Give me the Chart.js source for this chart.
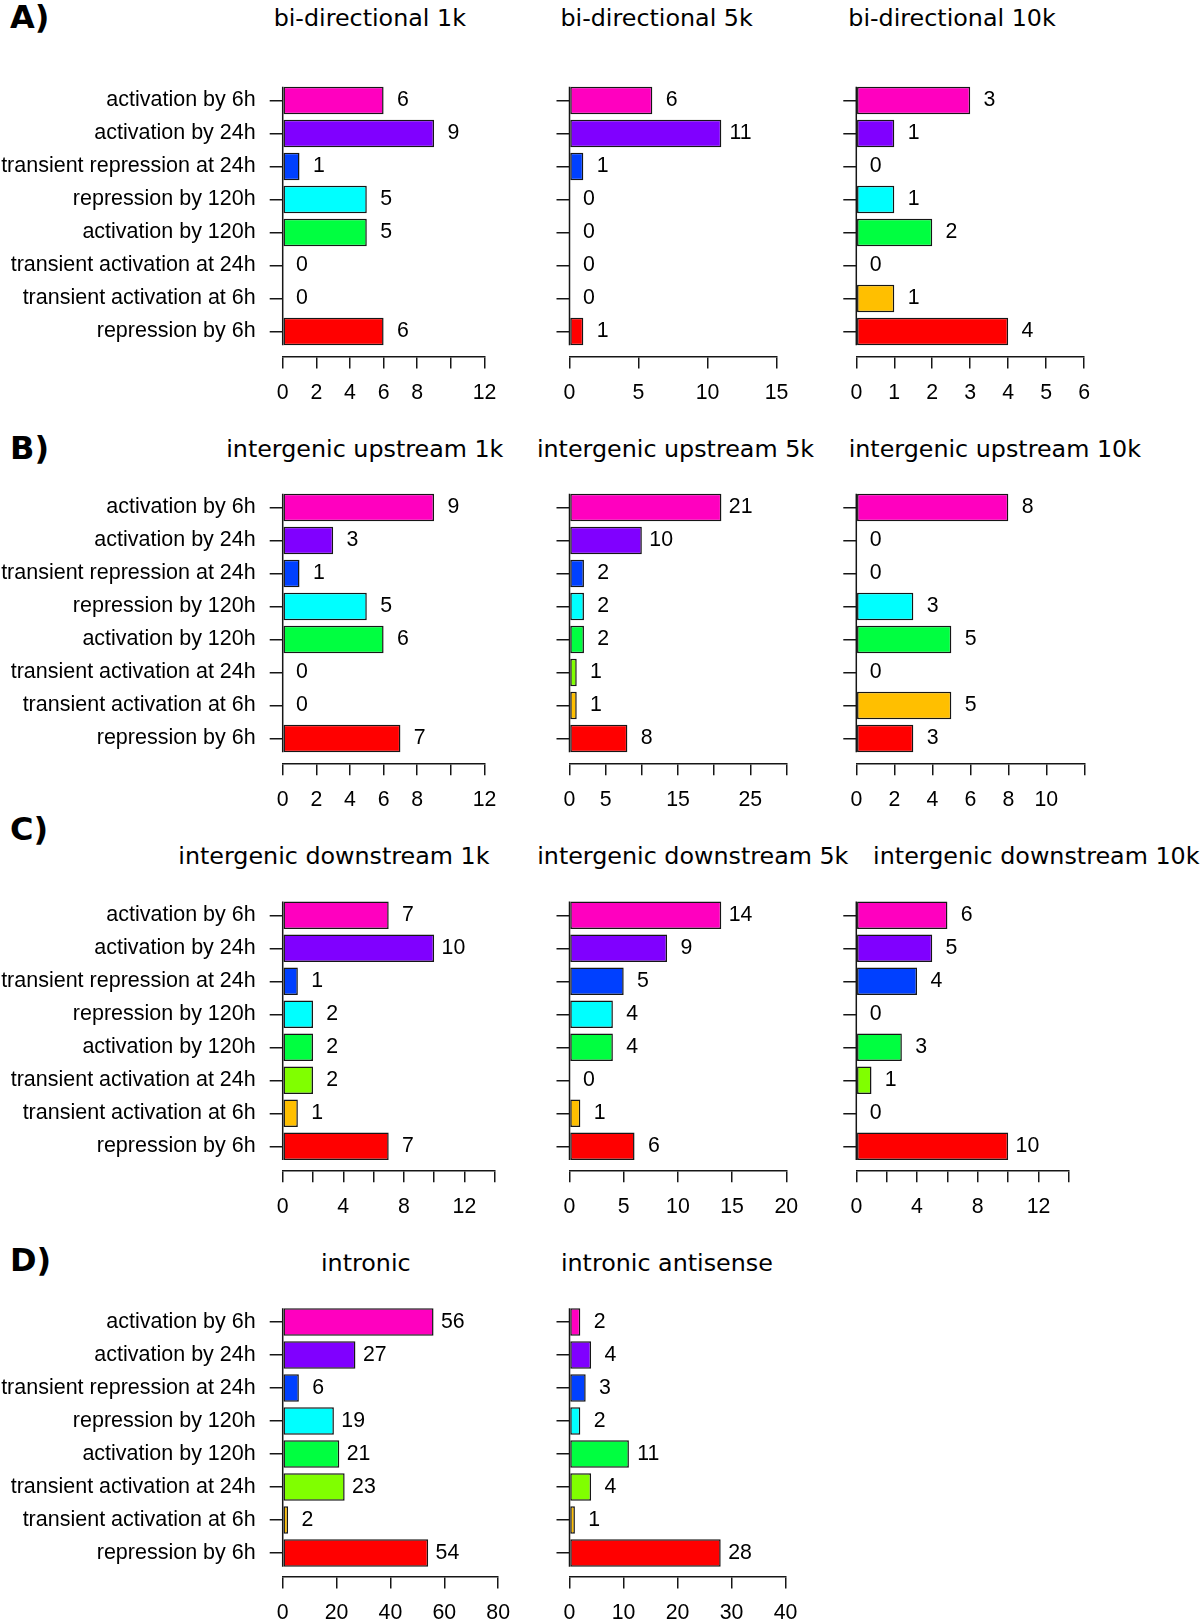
<!DOCTYPE html>
<html>
<head>
<meta charset="utf-8">
<script src="https://cdn.jsdelivr.net/npm/chart.js@4/dist/chart.umd.min.js"></script>
<style>
html, body { margin: 0; padding: 0; background: #fff; }
body { width: 1200px; height: 1623px; position: relative; overflow: hidden; }
canvas { position: absolute; }
.ttl { position: absolute; font-family: 'DejaVu Sans'; font-size: 23.8px; line-height: 1; white-space: nowrap; color: #000; transform: translateX(-50%); }
.lt { position: absolute; font-family: 'DejaVu Sans'; font-weight: bold; font-size: 32px; line-height: 1; color: #000; }
</style>
</head>
<body>
<script>
// ---------- data ----------
const categories = [
  'activation by 6h', 'activation by 24h', 'transient repression at 24h', 'repression by 120h',
  'activation by 120h', 'transient activation at 24h', 'transient activation at 6h', 'repression by 6h'
];
const categoryColors = ['#FF00BF', '#8000FF', '#0040FF', '#00FFFF', '#00FF40', '#80FF00', '#FFBF00', '#FF0000'];

const biDirectional1k  = [6, 9, 1, 5, 5, 0, 0, 6];
const biDirectional5k  = [6, 11, 1, 0, 0, 0, 0, 1];
const biDirectional10k = [3, 1, 0, 1, 2, 0, 1, 4];
const upstream1k  = [9, 3, 1, 5, 6, 0, 0, 7];
const upstream5k  = [21, 10, 2, 2, 2, 1, 1, 8];
const upstream10k = [8, 0, 0, 3, 5, 0, 5, 3];
const downstream1k  = [7, 10, 1, 2, 2, 2, 1, 7];
const downstream5k  = [14, 9, 5, 4, 4, 0, 1, 6];
const downstream10k = [6, 5, 4, 0, 3, 1, 0, 10];
const intronic = [56, 27, 6, 19, 21, 23, 2, 54];
const intronicAntisense = [2, 4, 3, 2, 11, 4, 1, 28];

const ticksBi1k = [0, 2, 4, 6, 8, 10, 12];      const tickLabelsBi1k = ['0', '2', '4', '6', '8', '', '12'];
const ticksBi5k = [0, 5, 10, 15];               const tickLabelsBi5k = ['0', '5', '10', '15'];
const ticksBi10k = [0, 1, 2, 3, 4, 5, 6];       const tickLabelsBi10k = ['0', '1', '2', '3', '4', '5', '6'];
const ticksUp1k = [0, 2, 4, 6, 8, 10, 12];      const tickLabelsUp1k = ['0', '2', '4', '6', '8', '', '12'];
const ticksUp5k = [0, 5, 10, 15, 20, 25, 30];   const tickLabelsUp5k = ['0', '5', '', '15', '', '25', ''];
const ticksUp10k = [0, 2, 4, 6, 8, 10, 12];     const tickLabelsUp10k = ['0', '2', '4', '6', '8', '10', ''];
const ticksDown1k = [0, 2, 4, 6, 8, 10, 12, 14];  const tickLabelsDown1k = ['0', '', '4', '', '8', '', '12', ''];
const ticksDown5k = [0, 5, 10, 15, 20];           const tickLabelsDown5k = ['0', '5', '10', '15', '20'];
const ticksDown10k = [0, 2, 4, 6, 8, 10, 12, 14]; const tickLabelsDown10k = ['0', '', '4', '', '8', '', '12', ''];
const ticksIntronic = [0, 20, 40, 60, 80];        const tickLabelsIntronic = ['0', '20', '40', '60', '80'];
const ticksAntisense = [0, 10, 20, 30, 40];       const tickLabelsAntisense = ['0', '10', '20', '30', '40'];

// ---------- layout (pixels) ----------
const COL_X0 = [282.7, 569.5, 856.3];
const ROWS = [
  { c0: 100.4,  axis: 357.0,  letter: 'A)', letterBase: 28,   titleBase: 27 },
  { c0: 507.4,  axis: 763.8,  letter: 'B)', letterBase: 459,  titleBase: 458 },
  { c0: 915.3,  axis: 1170.8, letter: 'C)', letterBase: 840,  titleBase: 865 },
  { c0: 1322.1, axis: 1577.0, letter: 'D)', letterBase: 1271.5, titleBase: 1272 }
];
const SPACING = 33;
const XH = 60;
const LINE = '#161616';
const LABEL_FONT = { family: 'Liberation Sans', size: 21.3 };
const CAT_FONT = { family: 'Liberation Sans', size: 21.5 };
const VALUE_OFFSET = 19.3;

const panels = [
  { title: 'bi-directional 1k',  values: biDirectional1k,  ticks: ticksBi1k,  tickLabels: tickLabelsBi1k,  row: 0, col: 0, axisLen: 201.8, cx: 369.8 },
  { title: 'bi-directional 5k',  values: biDirectional5k,  ticks: ticksBi5k,  tickLabels: tickLabelsBi5k,  row: 0, col: 1, axisLen: 207.0, cx: 656.6 },
  { title: 'bi-directional 10k', values: biDirectional10k, ticks: ticksBi10k, tickLabels: tickLabelsBi10k, row: 0, col: 2, axisLen: 227.8, cx: 952.0 },
  { title: 'intergenic upstream 1k',  values: upstream1k,  ticks: ticksUp1k,  tickLabels: tickLabelsUp1k,  row: 1, col: 0, axisLen: 201.8, cx: 364.8 },
  { title: 'intergenic upstream 5k',  values: upstream5k,  ticks: ticksUp5k,  tickLabels: tickLabelsUp5k,  row: 1, col: 1, axisLen: 217.0, cx: 675.5 },
  { title: 'intergenic upstream 10k', values: upstream10k, ticks: ticksUp10k, tickLabels: tickLabelsUp10k, row: 1, col: 2, axisLen: 228.0, cx: 994.8 },
  { title: 'intergenic downstream 1k',  values: downstream1k,  ticks: ticksDown1k,  tickLabels: tickLabelsDown1k,  row: 2, col: 0, axisLen: 212.0, cx: 333.9 },
  { title: 'intergenic downstream 5k',  values: downstream5k,  ticks: ticksDown5k,  tickLabels: tickLabelsDown5k,  row: 2, col: 1, axisLen: 216.8, cx: 692.8 },
  { title: 'intergenic downstream 10k', values: downstream10k, ticks: ticksDown10k, tickLabels: tickLabelsDown10k, row: 2, col: 2, axisLen: 212.6, cx: 1036.3 },
  { title: 'intronic',           values: intronic,          ticks: ticksIntronic,  tickLabels: tickLabelsIntronic,  row: 3, col: 0, axisLen: 215.5, cx: 365.8 },
  { title: 'intronic antisense', values: intronicAntisense, ticks: ticksAntisense, tickLabels: tickLabelsAntisense, row: 3, col: 1, axisLen: 216.0, cx: 666.9 }
];

// ---------- plugin: zero line + value labels ----------
const barDecor = {
  id: 'barDecor',
  afterDatasetsDraw(chart, args, opts) {
    const ctx = chart.ctx;
    const bars = chart.getDatasetMeta(0).data;
    const vals = opts.values;
    const x = chart.scales.x.getPixelForValue(0);
    const first = bars[0], last = bars[bars.length - 1];
    ctx.save();
    ctx.strokeStyle = LINE;
    ctx.lineWidth = 1.5;
    ctx.beginPath();
    ctx.moveTo(x, first.y - first.height / 2);
    ctx.lineTo(x, last.y + last.height / 2);
    ctx.stroke();
    ctx.font = LABEL_FONT.size + 'px "' + LABEL_FONT.family + '"';
    ctx.fillStyle = '#000';
    ctx.textAlign = 'center';
    ctx.textBaseline = 'middle';
    bars.forEach((b, i) => ctx.fillText(String(vals[i]), b.x + VALUE_OFFSET, b.y));
    ctx.restore();
  }
};

function addText(cls, text, left, top) {
  const d = document.createElement('div');
  d.className = cls;
  d.textContent = text;
  d.style.left = left + 'px';
  d.style.top = top + 'px';
  document.body.appendChild(d);
}

ROWS.forEach(r => addText('lt', r.letter, 10, r.letterBase - 0.846 * 32));

panels.forEach(p => {
  const row = ROWS[p.row];
  const x0 = COL_X0[p.col];
  const xRight = x0 + p.axisLen;
  const n = p.values.length;
  const m = (row.axis - (row.c0 + (n - 1) * SPACING)) / SPACING;
  const caTop = row.c0 - m * SPACING;
  const cl = Math.max(0, Math.floor(x0 - 290));
  const ct = Math.floor(caTop - 20);
  const cr = Math.min(1200, Math.ceil(xRight + 50));
  const cb = Math.ceil(row.axis + 70);
  const W = cr - cl, H = cb - ct;
  const yw = x0 - cl - 1;   // y-axis box reaches the canvas edge so its labels are not clipped

  addText('ttl', p.title, p.cx, row.titleBase - 0.846 * 23.8);

  const cv = document.createElement('canvas');
  cv.width = W; cv.height = H;
  cv.style.left = cl + 'px'; cv.style.top = ct + 'px';
  cv.style.width = W + 'px'; cv.style.height = H + 'px';
  document.body.appendChild(cv);

  const showLabels = p.col === 0;
  const xMax = p.ticks[p.ticks.length - 1];

  new Chart(cv.getContext('2d'), {
    type: 'bar',
    data: {
      datasets: [{
        data: p.values.map((v, i) => ({ x: v, y: i })),
        backgroundColor: categoryColors,
        borderColor: LINE,
        borderWidth: 1.5,
        borderSkipped: false,
        barPercentage: 1 / 1.2,
        categoryPercentage: 1
      }]
    },
    options: {
      indexAxis: 'y',
      responsive: false,
      maintainAspectRatio: false,
      animation: false,
      devicePixelRatio: 1,
      layout: {
        padding: {
          left: x0 - yw - cl,
          top: caTop - ct,
          right: cr - xRight,
          bottom: cb - row.axis - XH
        }
      },
      plugins: {
        legend: { display: false },
        tooltip: { enabled: false },
        title: { display: false },
        barDecor: { values: p.values }
      },
      scales: {
        x: {
          type: 'linear',
          position: 'bottom',
          offset: false,
          min: 0,
          max: xMax,
          afterBuildTicks: s => { s.ticks = p.ticks.map(v => ({ value: v })); },
          afterFit: s => { s.height = XH; s.paddingLeft = 0; s.paddingRight = 0; },
          grid: { offset: false, drawOnChartArea: false, drawTicks: true, tickLength: 11.5, color: LINE, lineWidth: 1.5 },
          border: { display: true, color: LINE, width: 1.5 },
          ticks: {
            autoSkip: false, maxRotation: 0, minRotation: 0, padding: 12.2,
            color: '#000', font: LABEL_FONT,
            callback: (v, i) => p.tickLabels[i]
          }
        },
        y: {
          type: 'linear',
          position: 'left',
          offset: false,
          reverse: true,
          min: -m,
          max: (n - 1) + m,
          afterBuildTicks: s => { s.ticks = categories.map((c, i) => ({ value: i })); },
          afterFit: s => { s.width = yw; s.paddingTop = 0; s.paddingBottom = 0; },
          grid: { offset: false, drawOnChartArea: false, drawTicks: true, tickLength: 13, color: LINE, lineWidth: 1.5 },
          border: { display: false },
          ticks: {
            autoSkip: false, padding: 14, color: '#000', font: CAT_FONT,
            callback: (v, i) => showLabels ? categories[i] : ''
          }
        }
      }
    },
    plugins: [barDecor]
  });
});
</script>
</body>
</html>
